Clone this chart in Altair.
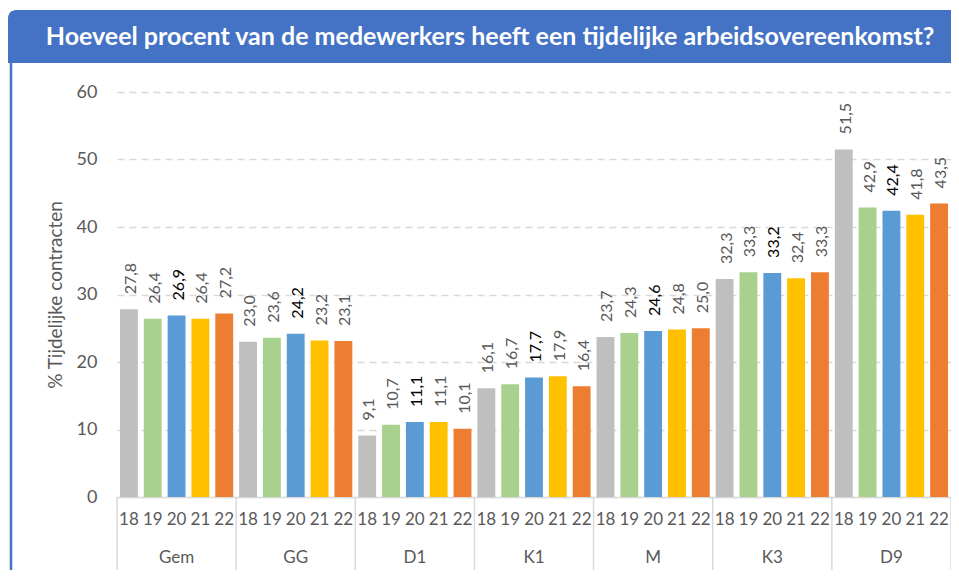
import altair as alt
import pandas as pd

title_text = "Hoeveel procent van de medewerkers heeft een tijdelijke arbeidsovereenkomst?"
y_title = "% Tijdelijke contracten"
groups = ["Gem", "GG", "D1", "K1", "M", "K3", "D9"]
years = ["18", "19", "20", "21", "22"]
year_colors = ["#BFBFBF", "#A9D18E", "#5B9BD5", "#FFC000", "#ED7D31"]

gem = [27.8, 26.4, 26.9, 26.4, 27.2]
gg = [23.0, 23.6, 24.2, 23.2, 23.1]
d1 = [9.1, 10.7, 11.1, 11.1, 10.1]
k1 = [16.1, 16.7, 17.7, 17.9, 16.4]
m = [23.7, 24.3, 24.6, 24.8, 25.0]
k3 = [32.3, 33.3, 33.2, 32.4, 33.3]
d9 = [51.5, 42.9, 42.4, 41.8, 43.5]
y_ticks = [0, 10, 20, 30, 40, 50, 60]

series = [gem, gg, d1, k1, m, k3, d9]
rows = []
for g, vals in zip(groups, series):
    for yr, v in zip(years, vals):
        rows.append({"group": g, "year": yr, "key": f"{g}|{yr}", "value": v,
                     "label": f"{v:.1f}".replace(".", ",")})
df = pd.DataFrame(rows)
keys = list(df["key"])

W, H = 834, 405
FONT = "Lato"

xscale = alt.Scale(domain=keys, paddingInner=0.25, paddingOuter=0.125)

bars = alt.Chart(df).mark_bar().encode(
    x=alt.X("key:N", sort=keys, scale=xscale,
            axis=alt.Axis(title=None, labelExpr="split(datum.label, '|')[1]",
                          labelAngle=0, ticks=False, labelFontSize=17,
                          labelColor="#595959", labelFont=FONT, labelPadding=14,
                          domainColor="#D9D9D9", domainWidth=1.5)),
    y=alt.Y("value:Q", scale=alt.Scale(domain=[0, 60], nice=False),
            axis=alt.Axis(title=y_title, values=y_ticks, domain=False, ticks=False,
                          grid=True, gridDash=[7, 5], gridColor="#D9D9D9", gridWidth=1.5,
                          labelFontSize=18, labelColor="#595959", labelFont=FONT,
                          labelPadding=20, titleFontSize=19, titleColor="#595959",
                          titleFont=FONT, titleFontWeight="normal", titlePadding=11)),
    color=alt.Color("year:N", scale=alt.Scale(domain=years, range=year_colors), legend=None),
)

labels = alt.Chart(df).mark_text(angle=270, align="left", baseline="middle",
                                 dx=15, dy=2, fontSize=16, font=FONT).encode(
    x=alt.X("key:N", sort=keys),
    y=alt.Y("value:Q"),
    text="label:N",
    color=alt.condition(alt.datum.year == "20", alt.value("#000000"), alt.value("#595959")),
)

first_df = df[df["year"] == years[0]]
seps = alt.Chart(first_df).mark_rule(color="#D9D9D9", strokeWidth=1.5, xOffset=-2.98).encode(
    x=alt.X("key:N", sort=keys, bandPosition=0),
    y=alt.value(H),
    y2=alt.value(H + 76),
)
last_sep = alt.Chart(first_df.head(1)).mark_rule(color="#D9D9D9", strokeWidth=1.5).encode(
    x=alt.value(W), y=alt.value(H), y2=alt.value(H + 76),
)

mid_df = df[df["year"] == years[2]]
group_labels = alt.Chart(mid_df).mark_text(fontSize=17, font=FONT, color="#595959",
                                           baseline="middle").encode(
    x=alt.X("key:N", sort=keys),
    y=alt.value(H + 61),
    text="group:N",
)

tdf = pd.DataFrame({"t": [title_text]})
banner = alt.Chart(tdf).mark_rect(color="#4472C4", cornerRadiusTopLeft=8).encode(
    x=alt.value(-109), x2=alt.value(W + 8), y=alt.value(-82), y2=alt.value(-29),
)
left_line = alt.Chart(tdf).mark_rule(color="#4472C4", strokeWidth=2.5).encode(
    x=alt.value(-106), y=alt.value(-29), y2=alt.value(H + 90),
)
title = alt.Chart(tdf).mark_text(color="white", fontSize=25, fontWeight="bold", font=FONT,
                                 baseline="middle", align="center").encode(
    x=alt.value(373), y=alt.value(-55), text="t:N",
)

chart = alt.layer(banner, left_line, title, bars, labels, seps, last_sep, group_labels).properties(
    width=W, height=H,
    autosize=alt.AutoSizeParams(type="none"),
    padding={"left": 109, "top": 84, "right": 0, "bottom": 73},
    background="white",
).configure_view(stroke=None)

chart.save("out.html", embed_options={"renderer": "svg", "actions": False})
